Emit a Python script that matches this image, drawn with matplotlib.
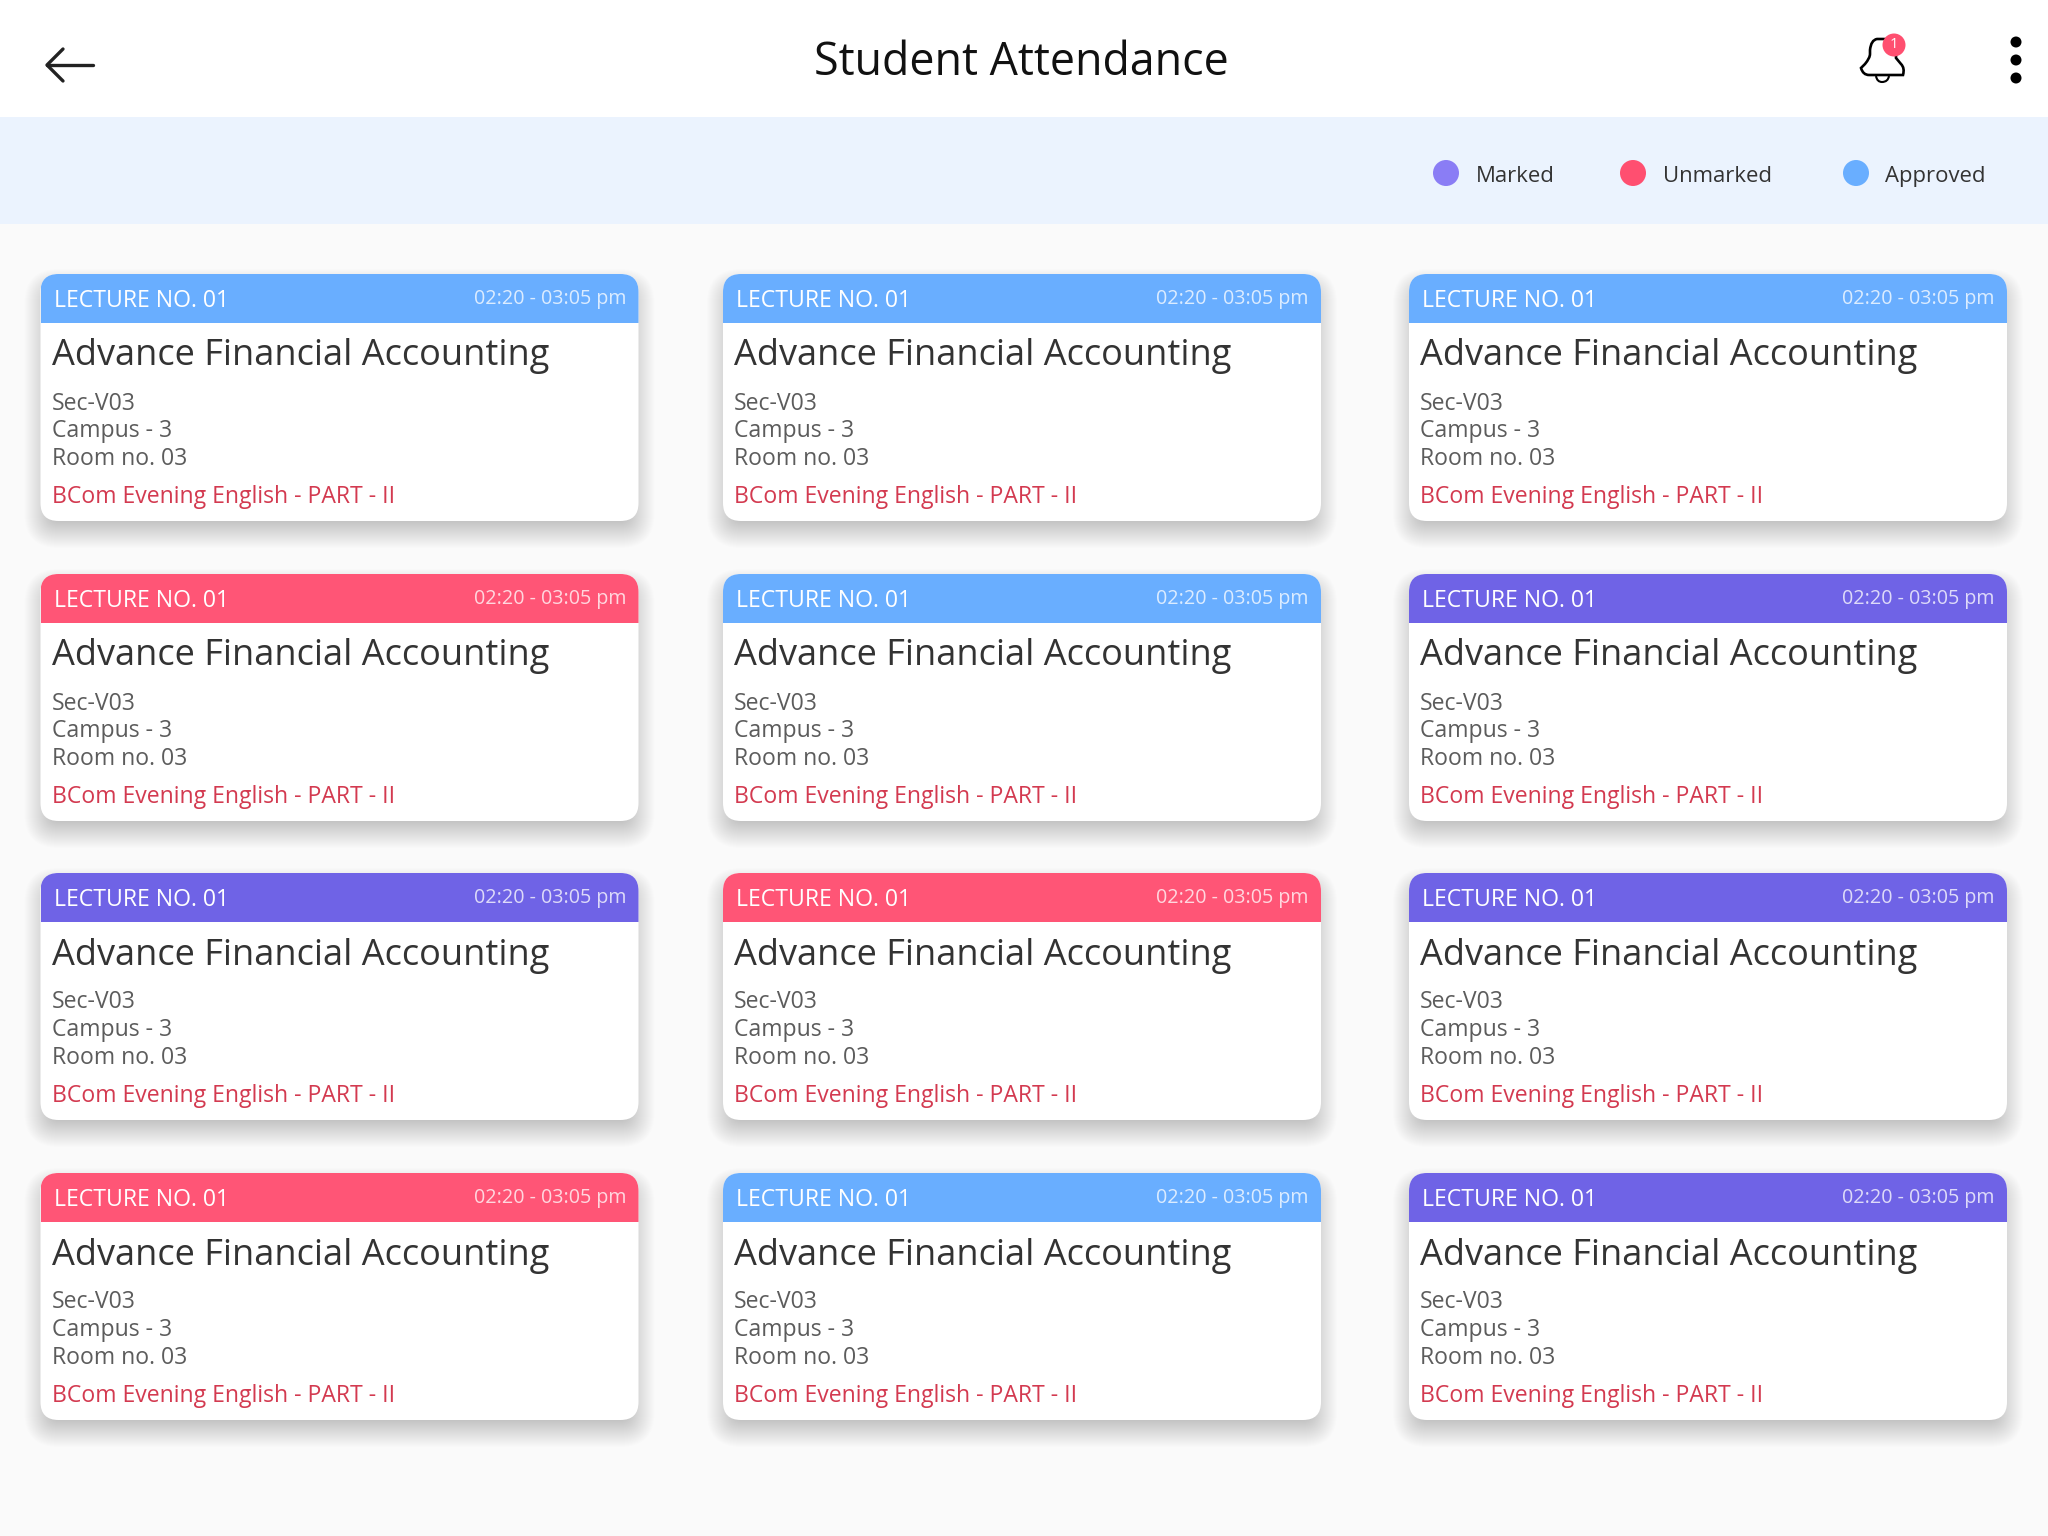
import numpy as np
import matplotlib
matplotlib.use('Agg')
from matplotlib import pyplot as plt
from matplotlib.patches import Circle, FancyBboxPatch, PathPatch, Rectangle
from matplotlib.path import Path

plt.rcParams['font.family'] = ['Open Sans', 'DejaVu Sans']

# Content
PAGE_TITLE = 'Student Attendance'
LEGEND_LABELS = ['Marked', 'Unmarked', 'Approved']
LECTURE = 'LECTURE NO. 01'
TIME_SLOT = '02:20 - 03:05 pm'
COURSE = 'Advance Financial Accounting'
DETAILS = ['Sec-V03', 'Campus - 3', 'Room no. 03']
PROGRAM = 'BCom Evening English - PART - II'
CARD_STATUS = [
    ['Approved', 'Approved', 'Approved'],
    ['Unmarked', 'Approved', 'Marked'],
    ['Marked', 'Unmarked', 'Marked'],
    ['Unmarked', 'Approved', 'Marked'],
]

# Colours
HEADER_COLORS = {'Marked': '#6f63e6', 'Unmarked': '#ff5576', 'Approved': '#69aeff'}
LEGEND_COLORS = {'Marked': '#8a7df5', 'Unmarked': '#ff4f70', 'Approved': '#69aeff'}

# Layout, in pixels
W, H = 2048, 1536
COL_X = [40.5, 723, 1409]
ROW_Y = [274, 574, 873, 1173]
CARD_W = 598
CARD_H = 247
HEADER_H = 49
RADIUS = 18
LEGEND_DOT_X = [1446, 1633, 1856]
LEGEND_TEXT_X = [1476, 1663, 1885]


def px(size):
    # font size given in pixels at dpi 100
    return size * 0.72


def rounded_box(x, y, w, h, r, **kwargs):
    return FancyBboxPatch((x + r, y + r), w - 2 * r, h - 2 * r,
                          boxstyle=f'round,pad={r},rounding_size={r}', **kwargs)


def draw_shadow(ax, x, y):
    # soft shadow made from stacked translucent boxes
    for grow in np.arange(16, -12, -1):
        ax.add_patch(rounded_box(x - grow, y + 11 - grow, CARD_W + 2 * grow,
                                 CARD_H + 2 * grow, max(RADIUS + grow, 8),
                                 fc='black', ec='none', alpha=0.0065, zorder=1))


def draw_card(ax, x, y, status):
    draw_shadow(ax, x, y)
    body = rounded_box(x, y, CARD_W, CARD_H, RADIUS, fc='white', ec='none', zorder=2)
    ax.add_patch(body)
    header = Rectangle((x, y), CARD_W, HEADER_H, fc=HEADER_COLORS[status], ec='none', zorder=3)
    ax.add_patch(header)
    header.set_clip_path(body)

    ax.text(x + 13, y + 27, LECTURE, color='white', fontsize=px(23), va='center', zorder=4)
    ax.text(x + CARD_W - 12, y + 25, TIME_SLOT, color='#ffffffc4', fontsize=px(19.8),
            va='center', ha='right', zorder=4)
    ax.text(x + 11, y + 82.5, COURSE, color='#333333', fontsize=px(36.15), va='center', zorder=4)
    for line, offset in zip(DETAILS, (129.5, 157, 185)):
        ax.text(x + 11, y + offset, line, color='#5c5c5c', fontsize=px(22.95), va='center', zorder=4)
    ax.text(x + 11, y + 223, PROGRAM, color='#d33a50', fontsize=px(22.95), va='center', zorder=4)


def draw_bell(ax):
    verts = [(1869, 75), (1863, 75), (1861, 68), (1865, 64),
             (1870, 58), (1870, 54), (1870, 50),
             (1871, 40), (1877, 39), (1883, 39),
             (1890, 39), (1896, 41), (1896, 50),
             (1896, 54), (1896, 58), (1901, 64),
             (1905, 68), (1903, 75), (1897, 75), (1869, 75)]
    codes = [Path.MOVETO, Path.CURVE3, Path.CURVE3, Path.LINETO,
             Path.CURVE3, Path.CURVE3, Path.LINETO,
             Path.CURVE3, Path.CURVE3, Path.LINETO,
             Path.CURVE3, Path.CURVE3, Path.LINETO,
             Path.CURVE3, Path.CURVE3, Path.LINETO,
             Path.CURVE3, Path.CURVE3, Path.LINETO, Path.CLOSEPOLY]
    ax.add_patch(PathPatch(Path(verts, codes), fc='white', ec='black', lw=1.9, zorder=4))
    clapper = Path([(1876, 76), (1877, 82), (1882, 82), (1888, 82), (1889, 76)],
                   [Path.MOVETO, Path.CURVE3, Path.CURVE3, Path.CURVE3, Path.CURVE3])
    ax.add_patch(PathPatch(clapper, fc='none', ec='black', lw=1.5, zorder=4))
    ax.add_patch(Circle((1894, 45), 11.5, fc='#ff4f70', ec='none', zorder=5))
    ax.text(1894, 44.5, '1', color='white', fontsize=px(15), ha='center', va='center', zorder=6)


def main():
    fig = plt.figure(figsize=(W / 100, H / 100), dpi=100, facecolor='#fafafa')
    ax = fig.add_axes([0, 0, 1, 1])
    ax.set_xlim(0, W)
    ax.set_ylim(H, 0)
    ax.axis('off')

    # top bar and legend band
    ax.add_patch(Rectangle((0, 0), W, 117, fc='white', ec='none', zorder=1))
    ax.add_patch(Rectangle((0, 117), W, 107, fc='#ebf3fe', ec='none', zorder=1))
    ax.text(1021, 63, PAGE_TITLE, color='#111111', fontsize=px(44.8), ha='center', va='center', zorder=4)

    # back arrow
    ax.plot([47, 93], [65, 65], color='#222222', lw=2.4, solid_capstyle='round', zorder=4)
    ax.plot([63, 47, 63], [49, 65, 81], color='#222222', lw=2.4, solid_capstyle='round',
            solid_joinstyle='round', zorder=4)

    draw_bell(ax)

    # overflow menu dots
    for dot_y in (42, 60, 78):
        ax.add_patch(Circle((2016, dot_y), 5.5, fc='black', ec='none', zorder=4))

    for label, dot_x, text_x in zip(LEGEND_LABELS, LEGEND_DOT_X, LEGEND_TEXT_X):
        ax.add_patch(Circle((dot_x, 173), 13, fc=LEGEND_COLORS[label], ec='none', zorder=4))
        ax.text(text_x, 176.5, label, color='#333333', fontsize=px(22.1), va='center', zorder=4)

    for row_y, statuses in zip(ROW_Y, CARD_STATUS):
        for col_x, status in zip(COL_X, statuses):
            draw_card(ax, col_x, row_y, status)

    fig.savefig('out.png', dpi=100, facecolor=fig.get_facecolor())


if __name__ == '__main__':
    main()
